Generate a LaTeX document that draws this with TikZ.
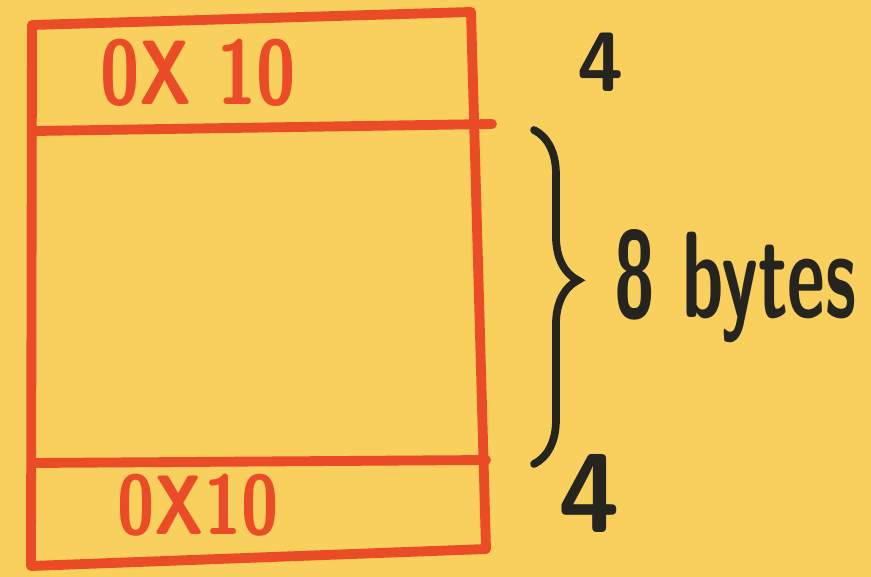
\documentclass[tikz,border=0pt]{standalone}
\usepackage{tikz}
\usetikzlibrary{decorations.pathreplacing}

\begin{document}
\begin{tikzpicture}[x=0.02cm, y=-0.02cm,
    marker/.style={draw=inkred, line width=5.6pt, line cap=round, line join=round},
    pen/.style={draw=inkblack, line width=4.4pt, line cap=round},
    hexlabel/.style={text=inkred, inner sep=0pt, font=\sffamily\bfseries\fontsize{#1}{#1}\selectfont},
    sizelabel/.style={text=inkblack, inner sep=0pt, font=\sffamily\bfseries\fontsize{#1}{#1}\selectfont}]
    \definecolor{paper}{RGB}{249,207,94}
    \definecolor{inkred}{RGB}{234,76,40}
    \definecolor{inkblack}{RGB}{38,36,30}

    % paper
    \fill[paper] (0,0) rectangle (871,577);
    \useasboundingbox (0,0) rectangle (871,577);

    % memory block
    \coordinate (tl) at (32,25);
    \coordinate (tr) at (471,12);
    \coordinate (br) at (486,549);
    \coordinate (bl) at (31,566);
    \draw[marker] (tl) -- (tr) -- (br) -- (bl) -- cycle;
    \draw[marker] (35,131) -- (492,124);
    \draw[marker] (33,463) -- (486,460);

    % header and footer values
    \node[hexlabel=52] (head) at (198,73) {\scalebox{0.78}[1]{0X 10}};
    \node[hexlabel=48] (foot) at (198,505) {\scalebox{0.8}[1]{0X10}};

    % sizes
    \draw[pen, decorate, decoration={brace, amplitude=25pt, aspect=0.45}] (534,130) -- (534,464);
    \node[sizelabel=70, anchor=base west] (payload) at (614,317) {\scalebox{0.6}[1]{8 bytes}};
    \node[sizelabel=48, anchor=base west] (headsize) at (577,92) {4};
    \node[sizelabel=64, anchor=base west] (footsize) at (558,532) {4};
\end{tikzpicture}
\end{document}
